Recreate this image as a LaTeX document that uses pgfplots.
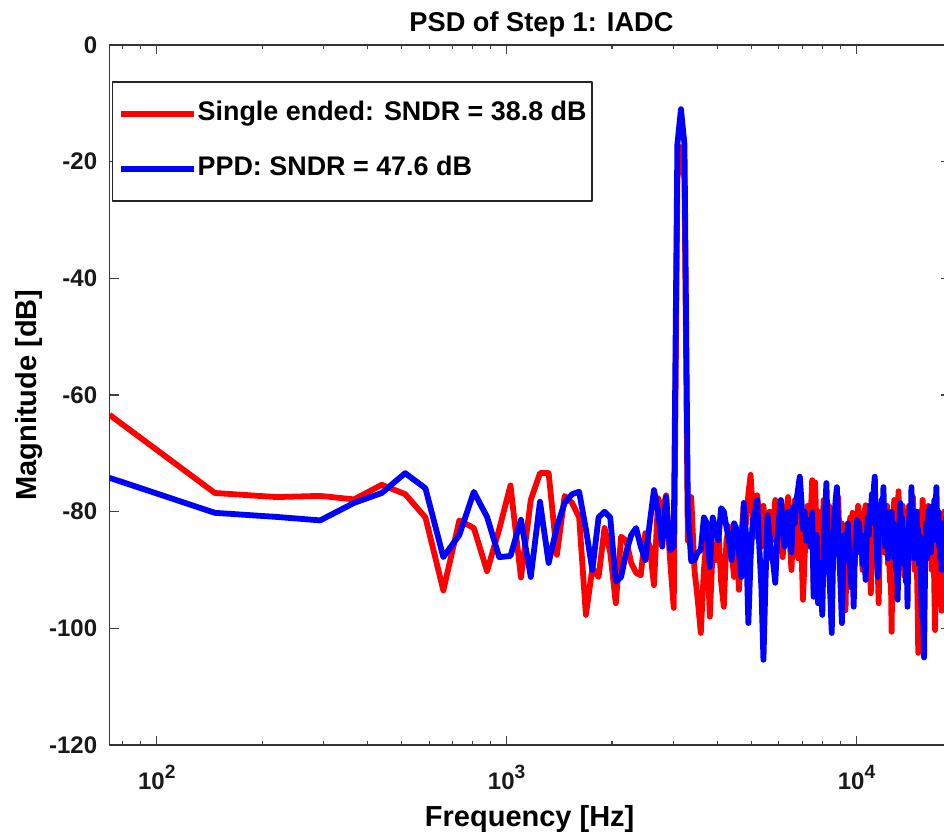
\documentclass[border=0pt]{standalone}
\usepackage{fontspec}
\setmainfont{Liberation Sans}
\usepackage{pgfplots}
\usepackage{pgfplotstable}
\pgfplotsset{compat=1.18}

\newcommand{\tenpow}[1]{10\raisebox{5.5pt}{\fontsize{9.6}{10}\selectfont\bfseries #1}}

\begin{document}
\begin{tikzpicture}
% PSD bins, k * 73.24 Hz; se = single ended, ppd = PPD (dB)
\pgfplotstableread{
k se ppd
1 -63.4 -74.2
2 -76.8 -80.2
3 -77.5 -80.9
4 -77.3 -81.5
5 -77.9 -78.5
6 -75.4 -76.8
7 -77.0 -73.4
8 -81.0 -76.0
9 -93.5 -87.8
10 -81.5 -84.0
11 -82.8 -76.6
12 -90.2 -80.9
13 -83.0 -87.8
14 -75.5 -87.6
15 -91.3 -81.4
16 -78.0 -91.2
17 -73.4 -78.3
18 -73.4 -88.8
19 -87.4 -82.6
20 -77.3 -78.5
21 -78.5 -77.0
22 -81.0 -76.6
23 -97.7 -83.0
24 -89.7 -90.0
25 -91.2 -81.0
26 -82.8 -80.0
27 -87.0 -81.0
28 -95.7 -92.0
29 -84.3 -91.2
30 -85.0 -86.9
31 -88.8 -84.0
32 -90.5 -82.8
33 -90.9 -86.0
34 -83.7 -88.3
35 -86.0 -82.0
36 -92.6 -76.3
37 -77.7 -80.0
38 -80.0 -86.0
39 -77.2 -77.5
40 -88.0 -86.6
41 -96.5 -86.0
42 -23.0 -17.0
43 -17.5 -11.0
44 -23.0 -17.0
45 -85.0 -80.0
46 -77.5 -88.5
47 -90.0 -88.3
48 -95.0 -87.0
49 -100.8 -86.6
50 -90.0 -81.0
51 -84.3 -82.0
52 -98.0 -89.5
53 -86.0 -81.0
54 -88.3 -83.0
55 -83.0 -84.9
56 -92.0 -79.4
57 -96.3 -80.0
58 -85.0 -82.6
59 -82.6 -85.0
60 -87.0 -88.3
61 -91.2 -82.0
62 -86.0 -83.0
63 -93.4 -87.0
64 -84.0 -91.2
65 -79.0 -78.5
66 -82.0 -84.0
67 -77.0 -99.1
68 -73.7 -88.0
69 -80.0 -81.4
70 -84.3 -80.0
71 -77.2 -78.0
72 -81.0 -86.0
73 -86.0 -93.0
74 -79.0 -105.4
75 -83.7 -92.0
76 -88.0 -80.6
77 -80.0 -84.0
78 -85.0 -87.0
79 -82.6 -89.0
80 -78.0 -92.2
81 -86.0 -85.0
82 -81.0 -81.0
83 -84.0 -78.0
84 -87.8 -82.0
85 -83.0 -86.0
86 -80.0 -83.0
87 -77.5 -80.0
88 -85.0 -84.0
89 -90.0 -87.0
90 -82.0 -79.2
91 -78.0 -82.0
92 -84.0 -78.0
93 -88.0 -76.0
94 -80.0 -74.0
95 -86.0 -78.0
96 -95.1 -83.0
97 -88.0 -80.0
98 -83.0 -85.0
99 -79.0 -82.0
100 -86.0 -81.4
101 -81.0 -86.0
102 -74.6 -80.2
103 -93.4 -94.6
104 -75.0 -88.0
105 -84.0 -84.0
106 -95.1 -95.7
107 -86.0 -89.0
108 -80.0 -92.0
109 -83.0 -97.7
110 -78.0 -86.0
111 -85.0 -80.0
112 -88.3 -75.1
113 -82.0 -84.0
114 -79.0 -90.0
115 -87.0 -95.0
116 -83.0 -100.8
117 -90.0 -88.0
118 -81.0 -81.0
119 -85.0 -78.0
120 -79.0 -75.8
121 -77.5 -83.0
122 -84.0 -88.0
123 -89.0 -93.0
124 -82.0 -99.1
125 -86.0 -90.0
126 -91.0 -84.0
127 -96.9 -88.0
128 -87.0 -86.0
129 -83.0 -82.0
130 -85.0 -87.0
131 -81.0 -90.0
132 -88.0 -93.0
133 -80.2 -89.0
134 -84.0 -96.3
135 -89.0 -88.0
136 -82.0 -84.0
137 -86.0 -81.4
138 -79.0 -85.0
139 -83.0 -82.0
140 -87.0 -87.0
141 -81.0 -84.0
142 -90.0 -89.0
143 -84.0 -86.0
144 -80.0 -88.0
145 -78.9 -91.7
146 -85.0 -85.0
147 -82.0 -81.0
148 -88.0 -84.0
149 -86.0 -79.0
150 -94.0 -82.0
151 -87.0 -77.0
152 -83.0 -80.0
153 -79.0 -76.0
154 -85.0 -74.0
155 -81.0 -82.0
156 -88.0 -86.0
157 -90.0 -91.2
158 -95.7 -84.0
159 -86.0 -80.0
160 -80.0 -83.0
161 -84.0 -78.0
162 -78.0 -81.0
163 -83.0 -75.8
164 -87.0 -82.0
165 -81.0 -86.0
166 -85.0 -80.0
167 -79.0 -84.0
168 -89.0 -88.0
169 -84.0 -83.0
170 -92.0 -87.1
171 -88.0 -84.0
172 -100.6 -80.0
173 -89.0 -85.0
174 -83.0 -82.0
175 -78.0 -88.0
176 -85.0 -84.0
177 -81.0 -90.0
178 -87.0 -86.0
179 -82.0 -95.1
180 -76.5 -88.0
181 -84.0 -83.0
182 -80.0 -78.5
183 -88.0 -84.0
184 -83.0 -81.0
185 -79.0 -87.0
186 -86.0 -83.0
187 -91.0 -89.0
188 -84.0 -85.0
189 -80.0 -92.0
190 -87.0 -88.0
191 -82.0 -96.3
192 -85.0 -87.0
193 -79.0 -82.0
194 -88.0 -79.0
195 -83.0 -84.0
196 -80.0 -75.8
197 -85.0 -81.0
198 -77.5 -86.0
199 -84.0 -83.0
200 -90.0 -88.0
201 -86.0 -82.0
202 -81.0 -85.0
203 -88.0 -80.0
204 -95.0 -87.0
205 -104.2 -83.0
206 -92.0 -89.0
207 -85.0 -84.3
208 -80.0 -88.0
209 -86.0 -93.0
210 -82.0 -98.0
211 -78.0 -92.0
212 -84.0 -99.0
213 -89.0 -105.0
214 -83.0 -94.0
215 -80.0 -86.0
216 -87.0 -82.0
217 -82.0 -88.0
218 -85.0 -84.0
219 -79.0 -80.0
220 -88.0 -85.0
221 -84.0 -79.2
222 -81.0 -83.0
223 -86.0 -87.0
224 -90.0 -81.0
225 -83.0 -85.0
226 -79.0 -80.0
227 -87.0 -84.0
228 -94.0 -78.0
229 -100.3 -82.0
230 -91.0 -79.0
231 -84.0 -75.8
232 -80.0 -81.0
233 -85.0 -85.0
234 -82.0 -80.0
235 -88.0 -86.0
236 -81.0 -83.0
237 -86.0 -88.0
238 -83.0 -84.0
239 -97.0 -90.0
240 -88.0 -86.0
241 -82.0 -82.0
242 -86.0 -87.0
243 -80.0 -84.0
244 -85.0 -89.0
245 -89.0 -85.0
246 -83.0 -81.0
247 -87.0 -86.0
248 -81.0 -83.0
249 -85.0 -88.0
250 -90.0 -84.0
251 -84.0 -87.0
252 -86.0 -85.0
}\psd
\path[use as bounding box] (0,0) rectangle (472pt,419pt);
\clip (0,0) rectangle (472pt,419pt);
\begin{axis}[
  at={(54.75pt,46.5pt)}, anchor=south west,
  scale only axis, width=420.2pt, height=350pt,
  xmode=log, xmin=73.24, xmax=18493,
  ymin=-120, ymax=0,
  xtick={100,1000,10000},
  xticklabels={\tenpow{2},\tenpow{3},\tenpow{4}},
  minor xtick={80,90,200,300,400,500,600,700,800,900,2000,3000,4000,5000,6000,7000,8000,9000},
  ytick={-120,-100,...,0},
  axis line style={black!80, line width=0.55pt},
  tick style={black!75, line width=0.55pt},
  tick align=inside,
  major tick length=4.6pt, minor tick length=2.2pt,
  xtick pos=both, ytick pos=both,
  tick label style={font=\fontsize{12}{14}\selectfont\bfseries, text=black!90},
  yticklabel style={/pgf/number format/assume math mode=true, anchor=east, inner sep=0pt, xshift=-6pt},
  xticklabel style={anchor=base, inner sep=0pt, yshift=-22.2pt},
  title={PSD of Step 1: IADC},
  title style={font=\fontsize{13.6}{16}\selectfont\bfseries, at={(axis description cs:0.514,1)}, anchor=base, yshift=0.5pt},
  xlabel={Frequency [Hz]},
  ylabel={Magnitude [dB]},
  label style={font=\fontsize{14.5}{17}\selectfont\bfseries},
  xlabel style={at={(axis description cs:0.5,-0.1171)}, anchor=base},
  ylabel style={at={(axis description cs:-0.0863,0.5)}, anchor=base},
  legend cell align=left,
  legend image code/.code={\draw[#1] (0pt,0pt) -- (36.5pt,0pt);},
  legend style={at={(axis description cs:0.0026,0.9486)}, anchor=north west,
    draw=black!85, line width=0.8pt, inner xsep=2.6pt, inner ysep=9.5pt,
    font=\fontsize{13.45}{16}\selectfont\bfseries,
    nodes={inner sep=0pt, text height=10pt, text depth=3pt},
    row sep=14.5pt},
  /tikz/every odd column/.append style={column sep=0.6pt},
  line join=round,
]
\addplot[red, line width=2.9pt] table[x expr=\thisrow{k}*73.24, y=se] {\psd};
\addlegendentry{Single ended: SNDR = 38.8 dB}
\addplot[blue, line width=2.9pt] table[x expr=\thisrow{k}*73.24, y=ppd] {\psd};
\addlegendentry{PPD: SNDR = 47.6 dB}
\end{axis}
\end{tikzpicture}
\end{document}
